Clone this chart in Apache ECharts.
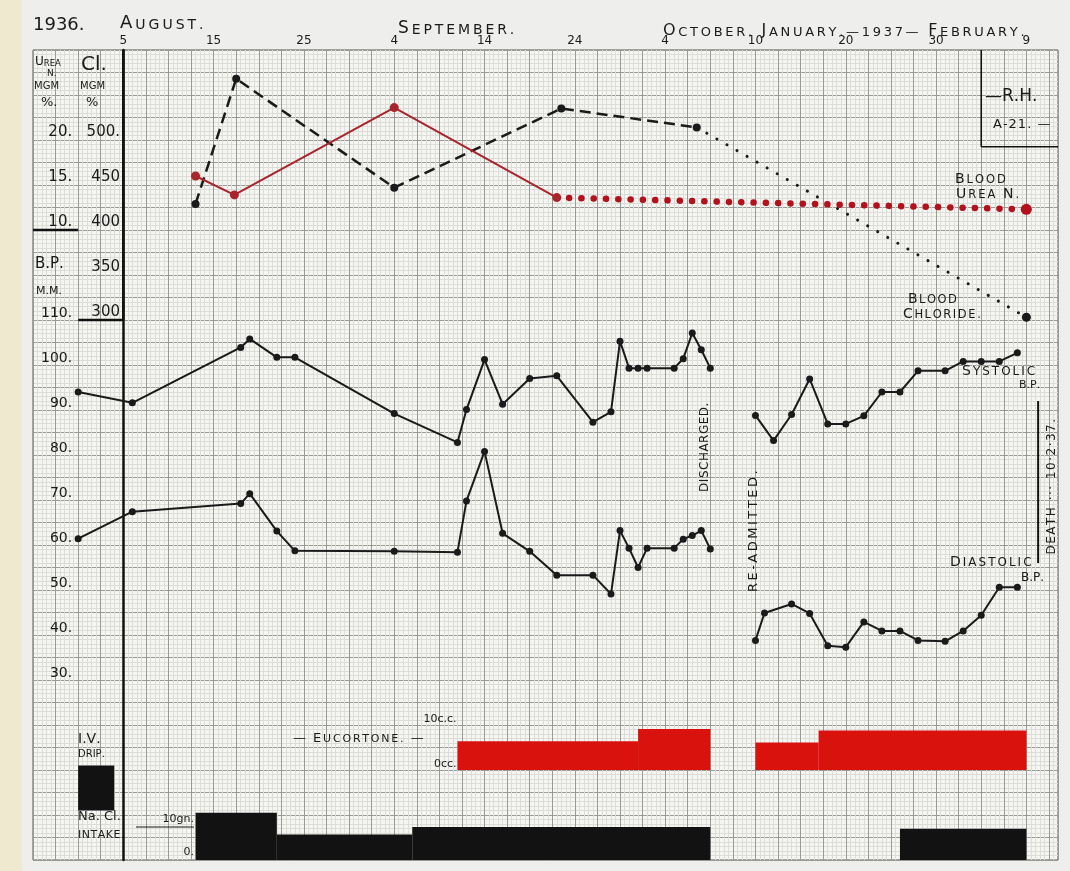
<!DOCTYPE html>
<html>
<head>
<meta charset="utf-8">
<script src="https://cdn.jsdelivr.net/npm/echarts@6/dist/echarts.min.js"></script>
<style>
  html, body { margin: 0; padding: 0; background: #ececea; }
  #chart { width: 1070px; height: 871px; }
</style>
</head>
<body>
<div id="chart"></div>
<script>
/*
 * Clinical chart, 1936-37: blood urea N, blood chloride, B.P.,
 * eucortone and NaCl intake, drawn on graph paper.
 * x is "paper day": 0 = 5 August, each printed label 10 days further.
 */

// -- Data --

var dayLabels = ['5', '15', '25', '4', '14', '24', '4', '10', '20', '30', '9'];   // at days 0, 10, ... 100

var sysDays   = [-5, 1, 13, 14, 17, 19, 30, 37, 38, 40, 42, 45, 48, 52, 54, 55, 56, 57, 58, 61, 62, 63, 64, 65,
                 67, 70, 72, 74, 76, 78, 80, 82, 84, 86, 88, 91, 93, 95, 97, 99];
var sysValues = [94, 91.6, 103.9, 105.8, 101.7, 101.7, 89.2, 82.8, 90.1, 101.2, 91.3, 97,
                 97.6, 87.3, 89.6, 105.3, 99.3, 99.3, 99.3, 99.3, 101.4, 107.1, 103.4, 99.3,
                 null, 88.8, 83.2, 89, 96.9, 86.9, 86.9, 88.7, 94, 94, 98.7, 98.7, 100.8, 100.8, 100.8, 102.7];

var diaDays   = [-5, 1, 13, 14, 17, 19, 30, 37, 38, 40, 42, 45, 48, 52, 54, 55, 56, 57, 58, 61, 62, 63, 64, 65,
                 67, 70, 71, 74, 76, 78, 80, 82, 84, 86, 88, 91, 93, 95, 97, 99];
var diaValues = [61.4, 67.4, 69.2, 71.4, 63.1, 58.7, 58.6, 58.4, 69.8, 80.8, 62.6, 58.6,
                 53.3, 53.3, 49.1, 63.2, 59.3, 55.0, 59.3, 59.3, 61.3, 62.1, 63.2, 59.1,
                 null, 38.8, 44.9, 46.9, 44.8, 37.6, 37.3, 42.9, 40.9, 40.9, 38.8, 38.6, 40.9, 44.4, 50.6, 50.6];

var ureaDays = [8, 12.3, 30, 48];
var ureaValues = [16.0, 13.9, 23.6, 13.6];          // mgm %
var ureaTrendDays = [48, 100];
var ureaTrendValues = [13.6, 12.3];

var clDays = [8, 12.5, 30, 48.5, 63.5];
var clValues = [429, 568, 447, 535, 514];           // mgm %
var clTrendDays = [63.5, 100];
var clTrendValues = [514, 303];

var eucStart = [37, 57, 70, 77];
var eucEnd   = [57, 65, 77, 100];
var eucDose  = [6.4, 9.1, 6.1, 8.8];                // c.c.

var saltStart = [8, 17, 32, 86];
var saltEnd   = [17, 32, 65, 100];
var saltGrams = [10, 5.4, 7, 6.6];                  // gn.

var ivStart = [-5];
var ivEnd   = [-1];

// -- Style tokens --

var FONT = "'DejaVu Sans', 'Liberation Sans', sans-serif";
var INK = '#1a1a1a';
var RED_LINE = '#a8262b';
var RED_DOT = '#b3121c';
var RED_FILL = '#d9120e';
var GRID_MAJOR = '#999996';
var GRID_MINOR = '#dcdcd8';

// every y axis shares the B.P. scale; each one is a linear remap of it
var BP_MIN = -10, BP_MAX = 170;
function scaleFor(bpAtZero, bpPerUnit) {
    var r = function (v) { return Math.round(v * 1e6) / 1e6; };
    return { min: r((BP_MIN - bpAtZero) / bpPerUnit), max: r((BP_MAX - bpAtZero) / bpPerUnit) };
}

function pairs(xs, ys) {
    return xs.map(function (x, i) { return [x, ys[i] === null ? '-' : ys[i]]; });
}
function ranges(a, b, v) {
    return a.map(function (s, i) { return [s, b[i], v[i]]; });
}

function rectItem(fill) {
    return function (params, api) {
        var p0 = api.coord([api.value(0), api.value(2)]);
        var p1 = api.coord([api.value(1), 0]);
        return {
            type: 'rect',
            shape: { x: p0[0], y: p0[1], width: p1[0] - p0[0], height: p1[1] - p0[1] },
            style: { fill: fill }
        };
    };
}

/** Hand lettering: one rich token per letter so it can be spaced out; optional larger initials. */
function lettered(text, withInitials) {
    var out = '', start = true;
    for (var i = 0; i < text.length; i++) {
        var c = text.charAt(i);
        if (c === ' ') { out += '{s| }'; start = true; continue; }
        out += '{' + (withInitials && start ? 'b' : 's') + '|' + c + '}';
        start = false;
    }
    return out;
}

/** Text on the form. o: { big, small, ls (letter spacing), rotation, align, vAlign } */
function label(x, y, text, o) {
    var big = o.big, small = o.small || o.big, ls = o.ls || 0;
    return {
        type: 'text', x: x, y: y, z: 50,
        rotation: o.rotation || 0,
        style: {
            text: lettered(text, !!o.small),
            fill: INK,
            font: big + 'px ' + FONT,
            align: o.align || 'left',
            verticalAlign: o.vAlign || 'top',
            rich: {
                b: { fontSize: big, fontFamily: FONT, fill: INK, verticalAlign: 'bottom', padding: [0, ls, 0, 0] },
                s: { fontSize: small, fontFamily: FONT, fill: INK, verticalAlign: 'bottom', padding: [0, ls, 0, 0] }
            }
        }
    };
}

var chart = echarts.init(document.getElementById('chart'));

var axisLabelBase = { color: INK, fontFamily: FONT, fontSize: 14, verticalAlign: 'bottom', margin: 6 };
function hiddenY(sc, interval, offset, formatter, lbl) {
    return {
        type: 'value', gridIndex: 0, position: 'left', offset: offset,
        min: sc.min, max: sc.max, interval: interval,
        axisLine: { show: false }, axisTick: { show: false }, splitLine: { show: false },
        axisLabel: formatter ? Object.assign({}, axisLabelBase, lbl || {}, { formatter: formatter, showMinLabel: true, showMaxLabel: true })
                             : { show: false }
    };
}

var option = {
    backgroundColor: '#eeeeec',
    animation: false,
    grid: {
        left: 33, right: 12, top: 50, bottom: 11,
        show: true, backgroundColor: '#f5f5f2', borderColor: '#55554f', borderWidth: 1
    },
    xAxis: {
        type: 'value', position: 'top',
        min: -10, max: 103.5, interval: 2.5,
        axisLine: { show: false }, axisTick: { show: false },
        axisLabel: {
            color: INK, fontFamily: FONT, fontSize: 12, margin: 3,
            showMinLabel: true, showMaxLabel: false,
            formatter: function (v) {
                var k = Math.round(v * 10) / 10;
                if (k >= 0 && k % 10 === 0 && k / 10 < dayLabels.length) return dayLabels[k / 10];
                return '';
            }
        },
        splitLine: { show: true, lineStyle: { color: GRID_MAJOR, width: 1 } },
        minorTick: { show: false, splitNumber: 5 },
        minorSplitLine: { show: true, lineStyle: { color: GRID_MINOR, width: 1 } }
    },
    yAxis: [
        {   // 0: B.P. mm
            type: 'value', position: 'left', offset: -45.2,
            min: BP_MIN, max: BP_MAX, interval: 5,
            axisLine: { show: true, lineStyle: { color: '#111', width: 2.5 } },
            axisTick: { show: false },
            axisLabel: Object.assign({}, axisLabelBase, {
                formatter: function (v) { return (v >= 30 && v <= 110 && v % 10 === 0) ? v + '.' : ''; }
            }),
            splitLine: { show: true, lineStyle: { color: GRID_MAJOR, width: 1 } },
            minorTick: { show: false, splitNumber: 5 },
            minorSplitLine: { show: true, lineStyle: { color: GRID_MINOR, width: 1 } }
        },
        // 1: urea N mgm %
        hiddenY(scaleFor(110, 2), 5, -45.2, function (v) {
            return v === 20 || v === 15 || v === 10 ? v + '.' : '';
        }, { fontSize: 15 }),
        // 2: chloride mgm %
        hiddenY(scaleFor(50, 0.2), 50, -91, function (v) {
            if (v === 500) return '500.';
            return v >= 300 && v < 500 ? String(v) : '';
        }, { fontSize: 15, margin: 4 }),
        // 3: eucortone c.c.
        hiddenY(scaleFor(10, 1), 10, -426.5, function (v) {
            return v === 10 ? '10c.c.' : v === 0 ? '0cc.' : '';
        }, { fontSize: 11, margin: 3 }),
        // 4: NaCl gn.
        hiddenY(scaleFor(-10, 1.05), 10, -164, function (v) {
            return v === 10 ? '{d|10gn.}' : v === 0 ? '{u|0.}' : '';
        }, {
            fontSize: 11, margin: 3, verticalAlign: 'middle',
            rich: {
                d: { fontSize: 11, fontFamily: FONT, color: INK, lineHeight: 24, verticalAlign: 'bottom' },
                u: { fontSize: 11, fontFamily: FONT, color: INK, lineHeight: 26, verticalAlign: 'top' }
            }
        }),
        // 5: I.V. drip (on / off)
        hiddenY(scaleFor(1, 10), 1, 0, null)
    ],
    series: [
        {
            name: 'Systolic B.P.', type: 'line', yAxisIndex: 0,
            data: pairs(sysDays, sysValues),
            symbol: 'circle', symbolSize: 7, connectNulls: false,
            lineStyle: { color: INK, width: 2 }, itemStyle: { color: INK }
        },
        {
            name: 'Diastolic B.P.', type: 'line', yAxisIndex: 0,
            data: pairs(diaDays, diaValues),
            symbol: 'circle', symbolSize: 7, connectNulls: false,
            lineStyle: { color: INK, width: 2 }, itemStyle: { color: INK }
        },
        {
            name: 'Blood chloride', type: 'line', yAxisIndex: 2,
            data: pairs(clDays, clValues),
            symbol: 'circle', symbolSize: 8,
            lineStyle: { color: INK, width: 2.5, type: [11, 6] }, itemStyle: { color: INK }
        },
        {
            name: 'Blood chloride (trend)', type: 'line', yAxisIndex: 2,
            data: pairs(clTrendDays, clTrendValues),
            symbol: 'circle',
            symbolSize: function (v, p) { return p.dataIndex === clTrendDays.length - 1 ? 9 : 0; },
            lineStyle: { color: INK, width: 3, type: [0.1, 11.5], cap: 'round' }, itemStyle: { color: INK }
        },
        {
            name: 'Blood urea N.', type: 'line', yAxisIndex: 1,
            data: pairs(ureaDays, ureaValues),
            symbol: 'circle', symbolSize: 9,
            lineStyle: { color: RED_LINE, width: 2 }, itemStyle: { color: RED_LINE }
        },
        {
            name: 'Blood urea N. (trend)', type: 'line', yAxisIndex: 1,
            data: pairs(ureaTrendDays, ureaTrendValues),
            symbol: 'circle',
            symbolSize: function (v, p) { return p.dataIndex === ureaTrendDays.length - 1 ? 11 : 0; },
            lineStyle: { color: RED_DOT, width: 6.5, type: [0.1, 12.2], cap: 'round' }, itemStyle: { color: RED_DOT }
        },
        {
            name: 'Eucortone', type: 'custom', yAxisIndex: 3,
            data: ranges(eucStart, eucEnd, eucDose),
            encode: { x: [0, 1], y: 2 },
            renderItem: rectItem(RED_FILL)
        },
        {
            name: 'NaCl intake', type: 'custom', yAxisIndex: 4,
            data: ranges(saltStart, saltEnd, saltGrams),
            encode: { x: [0, 1], y: 2 },
            renderItem: rectItem('#121212')
        },
        {
            name: 'I.V. drip', type: 'custom', yAxisIndex: 5,
            data: ranges(ivStart, ivEnd, ivStart.map(function () { return 1; })),
            encode: { x: [0, 1], y: 2 },
            renderItem: rectItem('#121212')
        },
        {
            // ruled lines of the chart form, in paper coordinates (day, B.P.)
            name: 'form', type: 'custom', yAxisIndex: 0, silent: true, z: 1,
            data: [
                [0, 110, 0, 170, 2.5],
                [-10, 130, -5, 130, 2.5],
                [-5, 110, 0, 110, 2.5],
                [95, 148.5, 95, 170, 1.6],
                [95, 148.5, 103.5, 148.5, 1.6],
                [101.3, 92, 101.3, 56, 2]
            ],
            encode: { x: [0, 2], y: [1, 3] },
            renderItem: function (params, api) {
                var a = api.coord([api.value(0), api.value(1)]);
                var b = api.coord([api.value(2), api.value(3)]);
                return {
                    type: 'line',
                    shape: { x1: a[0], y1: a[1], x2: b[0], y2: b[1] },
                    style: { stroke: '#111', lineWidth: api.value(4) }
                };
            }
        }
    ],
    graphic: [
        { type: 'rect', z: -10, shape: { x: 0, y: 0, width: 22, height: 871 }, style: { fill: '#efe9d0' } },
        label(33, 16, '1936.', { big: 18 }),
        label(120, 14, 'AUGUST.', { big: 18, small: 14, ls: 3 }),
        label(398, 20, 'SEPTEMBER.', { big: 17, small: 14, ls: 2.9 }),
        label(663, 23, 'OCTOBER. JANUARY.—1937— FEBRUARY.', { big: 16, small: 13, ls: 2.7 }),

        label(35, 56, 'UREA', { big: 12, small: 8.5 }),
        label(47, 69, 'N.', { big: 9 }),
        label(34, 81, 'MGM', { big: 10 }),
        label(41, 96, '%.', { big: 13 }),
        label(81, 55, 'Cl.', { big: 20 }),
        label(80, 81, 'MGM', { big: 10 }),
        label(86, 96, '%', { big: 13 }),
        label(35, 257, 'B.P.', { big: 15 }),
        label(36, 286, 'M.M.', { big: 11 }),

        label(985, 88, '—R.H.', { big: 17 }),
        label(993, 118, 'A-21. —', { big: 13, ls: 1 }),

        label(955, 172, 'BLOOD', { big: 14, small: 11.5, ls: 2 }),
        label(956, 187, 'UREA N.', { big: 14, small: 11.5, ls: 2 }),
        label(908, 292, 'BLOOD', { big: 14, small: 11.5, ls: 1.5 }),
        label(903, 307, 'CHLORIDE.', { big: 14, small: 11.5, ls: 1.6 }),
        label(962, 364, 'SYSTOLIC', { big: 14, small: 12, ls: 2 }),
        label(1019, 380, 'B.P.', { big: 11 }),
        label(950, 555, 'DIASTOLIC', { big: 14, small: 12, ls: 2 }),
        label(1021, 572, 'B.P.', { big: 12 }),

        label(705, 447, 'DISCHARGED.', { big: 12, ls: 0.5, rotation: Math.PI / 2, align: 'center', vAlign: 'middle' }),
        label(754, 530, 'RE-ADMITTED.', { big: 13, ls: 2.5, rotation: Math.PI / 2, align: 'center', vAlign: 'middle' }),
        label(1052, 486, 'DEATH ··· 10·2·37.', { big: 12, ls: 1.5, rotation: Math.PI / 2, align: 'center', vAlign: 'middle' }),

        label(293, 732, '— EUCORTONE. —', { big: 13, small: 11, ls: 1.8 }),
        label(78, 732, 'I.V.', { big: 14 }),
        label(78, 749, 'DRIP.', { big: 10 }),
        label(78, 810, 'Na. Cl.', { big: 13 }),
        label(78, 830, 'INTAKE.', { big: 11, ls: 0.5 }),
        { type: 'line', z: 50, shape: { x1: 136, y1: 827, x2: 194, y2: 827 }, style: { stroke: INK, lineWidth: 1.2 } }
    ]
};

chart.setOption(option);
</script>
</body>
</html>
